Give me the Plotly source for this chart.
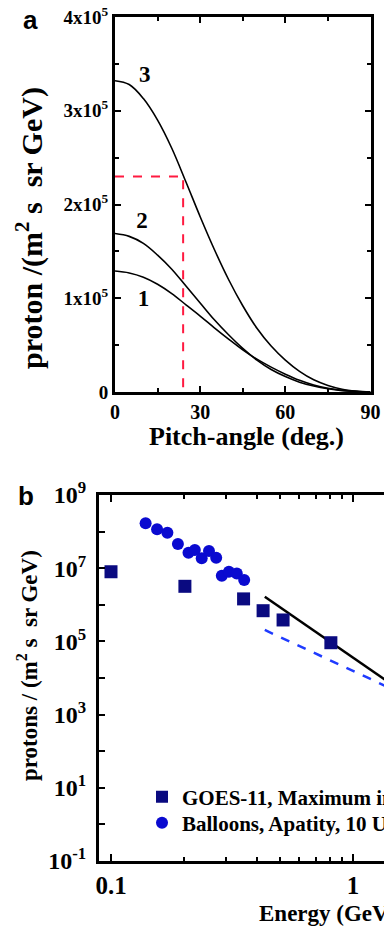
import plotly.graph_objects as go

# ---------------- Panel a data ----------------
angle = [0, 5, 10, 15, 20, 25, 30, 35, 40, 45, 50, 55, 60, 65, 70, 75, 80, 85, 90]
curve1 = [1.29e5, 1.27e5, 1.225e5, 1.15e5, 1.05e5, 0.93e5, 0.81e5, 0.685e5, 0.565e5, 0.45e5,
          0.35e5, 0.265e5, 0.19e5, 0.125e5, 0.075e5, 0.04e5, 0.018e5, 0.006e5, 0.0]
curve2 = [1.69e5, 1.66e5, 1.585e5, 1.46e5, 1.31e5, 1.13e5, 0.95e5, 0.77e5, 0.61e5, 0.465e5,
          0.34e5, 0.24e5, 0.165e5, 0.105e5, 0.063e5, 0.034e5, 0.015e5, 0.005e5, 0.0]
curve3 = [3.32e5, 3.28e5, 3.13e5, 2.90e5, 2.60e5, 2.24e5, 1.87e5, 1.52e5, 1.20e5, 0.92e5,
          0.68e5, 0.49e5, 0.34e5, 0.22e5, 0.13e5, 0.07e5, 0.03e5, 0.01e5, 0.0]
red_x = [0, 24, 24]
red_y = [2.3e5, 2.3e5, 0]
curve_labels = ["3", "2", "1"]
curve_label_x = [10.5, 9.5, 10]
curve_label_y = [3.37e5, 1.81e5, 0.98e5]
a_yticks = [0, 1e5, 2e5, 3e5, 4e5]
a_yticktext = ["0", "1x10<sup>5</sup>", "2x10<sup>5</sup>", "3x10<sup>5</sup>", "4x10<sup>5</sup>"]
a_xticks = [0, 30, 60, 90]

# ---------------- Panel b data ----------------
goes_E = [0.1, 0.202, 0.353, 0.425, 0.514, 0.81]
goes_F = [8.0e6, 3.2e6, 1.45e6, 6.9e5, 3.85e5, 9.2e4]
ball_E = [0.139, 0.155, 0.171, 0.189, 0.209, 0.222, 0.237, 0.254, 0.272, 0.287, 0.307, 0.331, 0.355]
ball_F = [1.68e8, 1.16e8, 9.3e7, 4.6e7, 2.65e7, 3.14e7, 1.86e7, 2.95e7, 1.94e7, 6.2e6, 8.0e6, 7.2e6, 4.75e6]
fit_E = [0.432, 1.5]
fit_F = [1.66e6, 5.7e3]
dash_E = [0.432, 1.5]
dash_F = [2.05e5, 4.5e3]
b_yticks = [1e-1, 1e1, 1e3, 1e5, 1e7, 1e9]
b_yticktext = ["10<sup>-1</sup>", "10<sup>1</sup>", "10<sup>3</sup>", "10<sup>5</sup>", "10<sup>7</sup>", "10<sup>9</sup>"]
b_yminor = [1e0, 1e2, 1e4, 1e6, 1e8]
b_xticks = [0.1, 1]
b_xticktext = ["0.1", "1"]
b_xminor = [0.2, 0.3, 0.4, 0.5, 0.6, 0.7, 0.8, 0.9, 2, 3]

W, H = 384, 926
SERIF = "Liberation Serif, Times New Roman, serif"
SANS = "Liberation Sans, Arial, sans-serif"

fig = go.Figure()

# panel a curves
for cy in (curve1, curve2, curve3):
    fig.add_trace(go.Scatter(x=angle, y=cy, mode="lines", line=dict(color="black", width=1.6, shape="spline"),
                             xaxis="x", yaxis="y", showlegend=False, hoverinfo="skip"))
fig.add_trace(go.Scatter(x=red_x, y=red_y, mode="lines", line=dict(color="#FF1A40", width=2, dash="dash"),
                         xaxis="x", yaxis="y", showlegend=False))
fig.add_trace(go.Scatter(x=curve_label_x, y=curve_label_y, mode="text", text=curve_labels,
                         textfont=dict(family=SERIF, size=23, color="black", weight="bold"),
                         xaxis="x", yaxis="y", showlegend=False))

# panel b
fig.add_trace(go.Scatter(x=fit_E, y=fit_F, mode="lines", line=dict(color="black", width=2.5),
                         xaxis="x2", yaxis="y2", showlegend=False))
fig.add_trace(go.Scatter(x=dash_E, y=dash_F, mode="lines", line=dict(color="#1F3BFF", width=2.5, dash="dash"),
                         xaxis="x2", yaxis="y2", showlegend=False))
fig.add_trace(go.Scatter(x=goes_E, y=goes_F, mode="markers", name="GOES-11, Maximum intensity",
                         marker=dict(symbol="square", size=13, color="#0A0A80"),
                         xaxis="x2", yaxis="y2", legend="legend"))
fig.add_trace(go.Scatter(x=ball_E, y=ball_F, mode="markers", name="Balloons, Apatity, 10 UT",
                         marker=dict(symbol="circle", size=12, color="#0A0AD0"),
                         xaxis="x2", yaxis="y2", legend="legend2"))

ax_common = dict(showline=True, linecolor="black", linewidth=3, ticks="inside", tickcolor="black",
                 tickwidth=2, showgrid=False, zeroline=False)

xa_dom = [115 / W, 370.5 / W]
ya_dom = [1 - 392 / H, 1 - 17 / H]
xb_dom = [99 / W, 1.0]
yb_dom = [1 - 861 / H, 1 - 495 / H]

leg_font = dict(family=SERIF, size=21, color="black", weight="bold")

fig.update_layout(
    width=W, height=H,
    margin=dict(l=0, r=0, t=0, b=0, autoexpand=False),
    paper_bgcolor="white", plot_bgcolor="white",
    xaxis=dict(domain=xa_dom, anchor="y", range=[0, 90], tickvals=a_xticks, ticklen=6, mirror="ticks",
               minor=dict(dtick=15, ticks="inside", ticklen=4, tickwidth=2, tickcolor="black"),
               tickfont=dict(family=SERIF, size=20, color="black", weight="bold"), **ax_common),
    yaxis=dict(domain=ya_dom, anchor="x", range=[0, 4e5], tickvals=a_yticks, ticktext=a_yticktext, ticklen=6,
               mirror="ticks",
               minor=dict(dtick=5e4, ticks="inside", ticklen=4, tickwidth=2, tickcolor="black"),
               tickfont=dict(family=SERIF, size=19, color="black", weight="bold"), **ax_common),
    xaxis2=dict(domain=xb_dom, anchor="y2", type="log", range=[-1.0496, 0.128], tickvals=b_xticks,
                ticktext=b_xticktext, ticklen=7, mirror="ticks",
                minor=dict(tickvals=b_xminor, ticks="inside", ticklen=4, tickwidth=2, tickcolor="black"),
                tickfont=dict(family=SERIF, size=25, color="black", weight="bold"), **ax_common),
    yaxis2=dict(domain=yb_dom, anchor="x2", type="log", range=[-1, 9], tickvals=b_yticks, ticktext=b_yticktext,
                ticklen=6, mirror=False, ticklabelstandoff=5,
                minor=dict(tickvals=b_yminor, ticks="inside", ticklen=6, tickwidth=2, tickcolor="black"),
                tickfont=dict(family=SERIF, size=24, color="black", weight="bold"), **ax_common),
    legend=dict(x=142 / W, y=1 - 797 / H, xanchor="left", yanchor="middle", bgcolor="rgba(0,0,0,0)",
                font=leg_font, itemsizing="constant"),
    legend2=dict(x=142 / W, y=1 - 823 / H, xanchor="left", yanchor="middle", bgcolor="rgba(0,0,0,0)",
                 font=leg_font, itemsizing="constant"),
    showlegend=True,
)

annotations = [
    dict(text="a", x=30 / W, y=1 - 20 / H, font=dict(family=SANS, size=26, color="black", weight="bold")),
    dict(text="b", x=26 / W, y=1 - 496 / H, font=dict(family=SANS, size=26, color="black", weight="bold")),
    dict(text="Pitch-angle (deg.)", x=246 / W, y=1 - 437 / H,
         font=dict(family=SERIF, size=26, color="black", weight="bold")),
    dict(text="proton /(m<sup>2</sup> s  sr GeV)", x=29 / W, y=1 - 228 / H, textangle=-90,
         font=dict(family=SERIF, size=30, color="black", weight="bold")),
    dict(text="protons / (m<sup>2</sup> s  sr GeV)", x=27 / W, y=1 - 666 / H, textangle=-90,
         font=dict(family=SERIF, size=23, color="black", weight="bold")),
    dict(text="Energy (GeV)", x=257 / W, y=1 - 913 / H, xanchor="left",
         font=dict(family=SERIF, size=23, color="black", weight="bold")),
]
for a in annotations:
    a.setdefault("xanchor", "center")
    a.update(xref="paper", yref="paper", yanchor="middle", showarrow=False)
fig.update_layout(annotations=annotations)

fig.write_html("out.html", config={"displayModeBar": False},
               post_script="document.body.style.margin='0';document.body.style.overflow='hidden';")
